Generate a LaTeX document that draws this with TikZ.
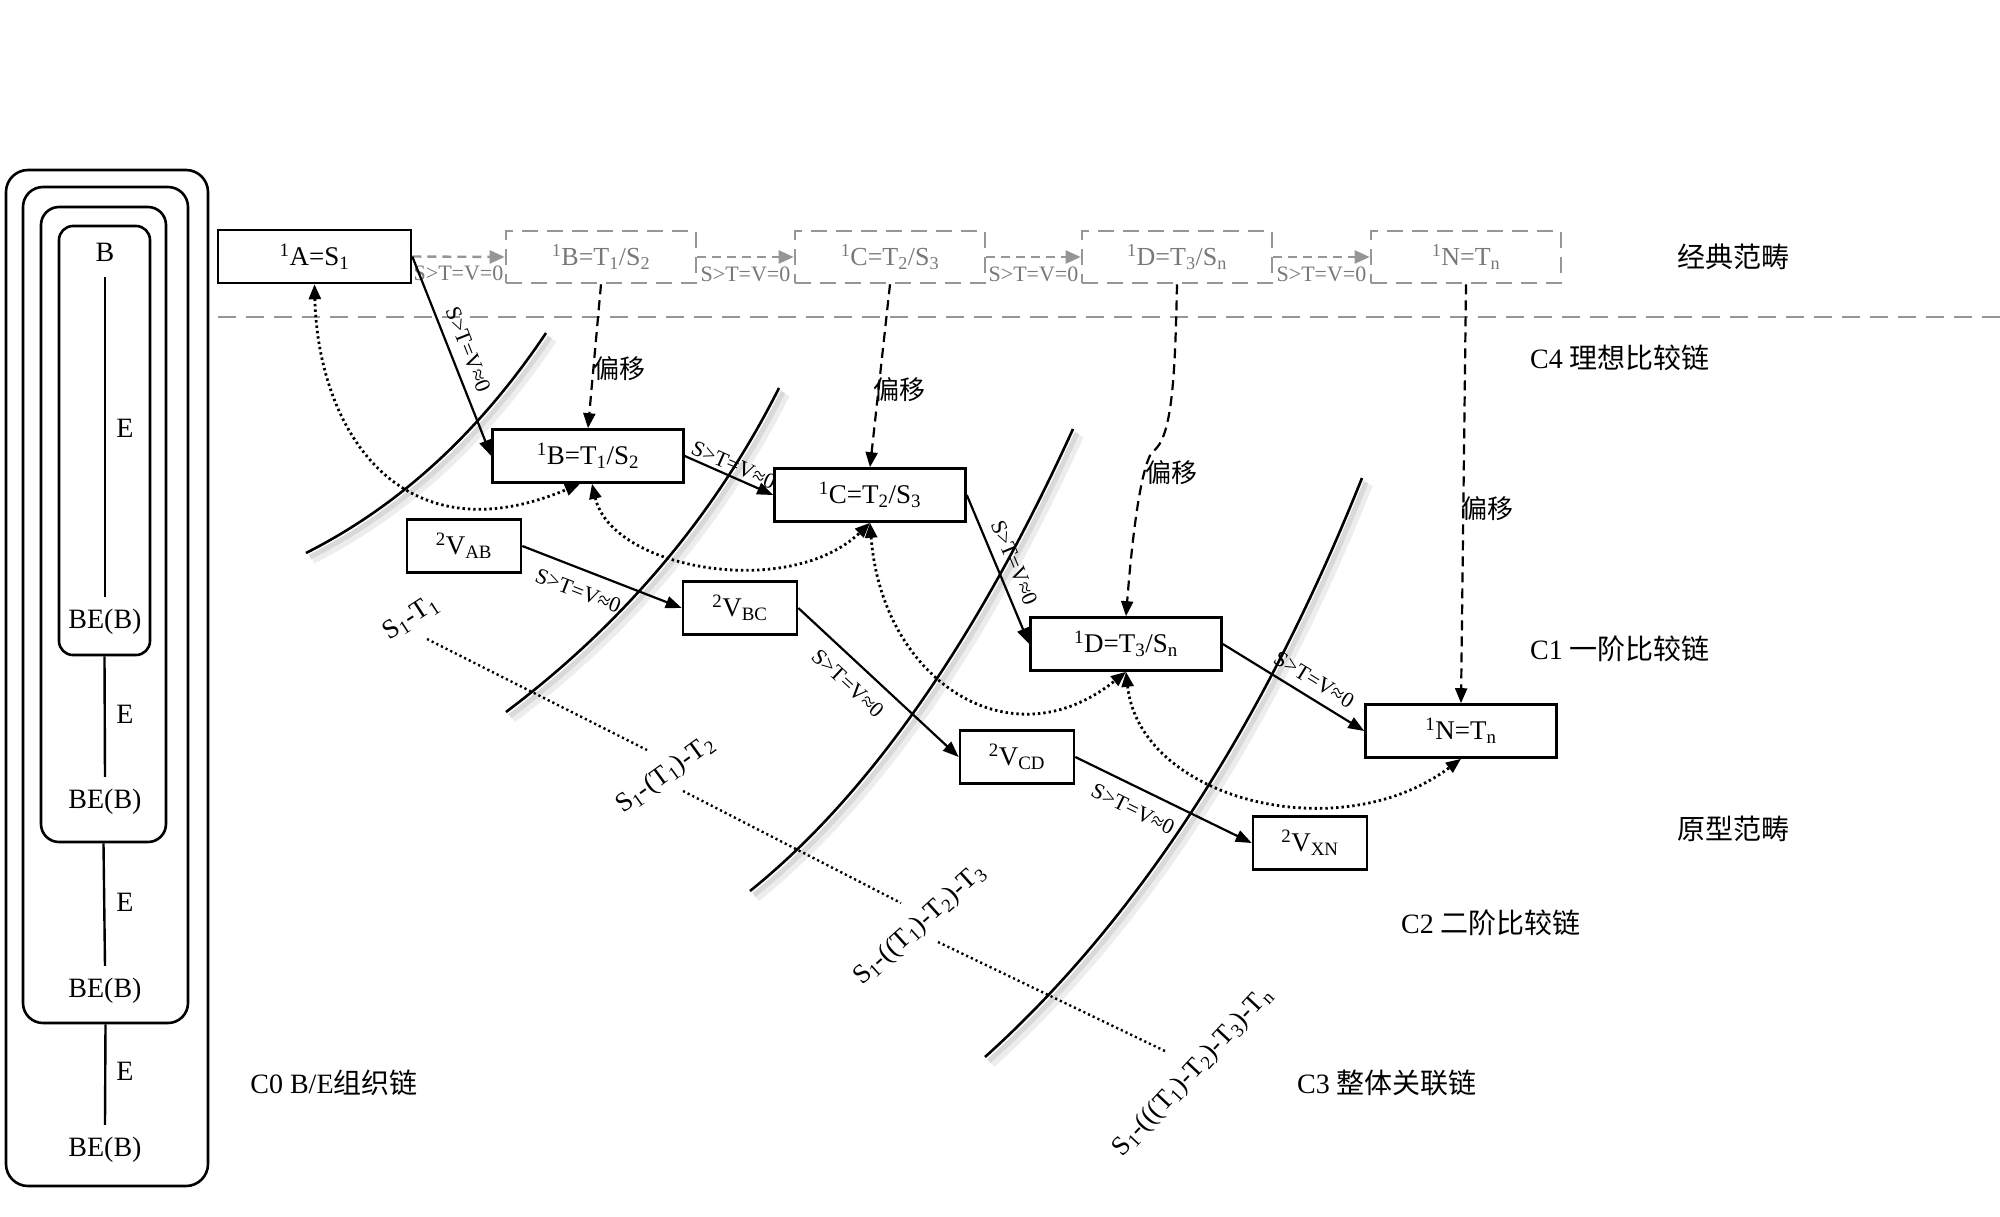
\documentclass[tikz,border=0pt]{standalone}
\usepackage{fontspec}
\setmainfont{Liberation Serif}
\newfontfamily\cjk{Noto Sans CJK SC}
\usetikzlibrary{arrows.meta,calc}
\definecolor{tgray}{RGB}{120,120,120}
\definecolor{lgray}{RGB}{150,150,150}
\newcommand\myup[1]{\textsuperscript{#1}}
\newcommand\mydn[1]{\textsubscript{#1}}
\newcommand\myfs[1]{\fontsize{#1}{#1}\selectfont}
\begin{document}
\begin{tikzpicture}[x=1pt,y=-1pt,
  sbox/.style={draw, fill=white, line width=2.6pt, minimum width=191pt, minimum height=53pt, inner sep=0pt, font=\myfs{27}},
  vbox/.style={sbox, minimum width=114pt},
  tbox/.style={draw=lgray, line width=2.6pt, dash pattern=on 16pt off 9pt, minimum width=190pt, minimum height=52pt, inner sep=0pt, text=tgray, font=\myfs{26}},
  rbox/.style={draw, line width=2.6pt, inner sep=0pt},
  btxt/.style={font=\myfs{28}, inner sep=0pt, minimum height=50pt},
  etxt/.style={font=\myfs{28}, inner sep=0pt},
  arr/.style={line width=2.2pt, -{Triangle[length=16pt,width=12pt]}},
  tarr/.style={draw=lgray, line width=2.4pt, dash pattern=on 9pt off 6pt, -{Triangle[length=15pt,width=13pt]}},
  shiftarr/.style={line width=2.2pt, dash pattern=on 10pt off 6pt, -{Triangle[length=15pt,width=12pt]}},
  dotarr/.style={line width=2.8pt, dash pattern=on 2.4pt off 3pt, {Triangle[length=15pt,width=12pt]}-{Triangle[length=15pt,width=12pt]}},
  dotln/.style={line width=2.4pt, dash pattern=on 2.2pt off 3pt},
  elbl/.style={font=\myfs{22}, inner sep=9pt},
  elblb/.style={font=\myfs{22}, inner sep=13pt},
  tlbl/.style={font=\myfs{22}, text=tgray, inner sep=0pt},
  cjklbl/.style={font=\cjk\myfs{26}, inner sep=0pt},
  side/.style={font=\myfs{28}, inner sep=0pt},
  chain/.style={font=\myfs{27}, inner sep=2pt},
  curve/.style={line width=2.6pt},
  shadeA/.style={line width=10pt, black!7},
  shadeB/.style={line width=5pt, black!15},
]
\useasboundingbox (0,0) rectangle (2000,1216);
\fill[white] (0,0) rectangle (2000,1216);

% ---- large arcs with soft shadow
\draw[shadeA, shift={(6,6)}] (306,553) .. controls (399,506) and (479,433) .. (546,333);
\draw[shadeB, shift={(4,4)}] (306,553) .. controls (399,506) and (479,433) .. (546,333);
\draw[curve] (306,553) .. controls (399,506) and (479,433) .. (546,333);
\draw[shadeA, shift={(6,6)}] (506,712) .. controls (624,623) and (715,515) .. (779,388);
\draw[shadeB, shift={(4,4)}] (506,712) .. controls (624,623) and (715,515) .. (779,388);
\draw[curve] (506,712) .. controls (624,623) and (715,515) .. (779,388);
\draw[shadeA, shift={(6,6)}] (750,891) .. controls (868,796) and (976,642) .. (1073,429);
\draw[shadeB, shift={(4,4)}] (750,891) .. controls (868,796) and (976,642) .. (1073,429);
\draw[curve] (750,891) .. controls (868,796) and (976,642) .. (1073,429);
\draw[shadeA, shift={(6,6)}] (985,1057) .. controls (1136,921) and (1262,728) .. (1362,478);
\draw[shadeB, shift={(4,4)}] (985,1057) .. controls (1136,921) and (1262,728) .. (1362,478);
\draw[curve] (985,1057) .. controls (1136,921) and (1262,728) .. (1362,478);

% ---- left nested B/E boxes
\node[rbox, rounded corners=22pt, minimum width=202pt, minimum height=1016pt] (L4) at (107,678) {};
\node[rbox, rounded corners=20pt, minimum width=165pt, minimum height=836pt] (L3) at (105.5,605) {};
\node[rbox, rounded corners=18pt, minimum width=125pt, minimum height=635pt] (L2) at (103.5,524.5) {};
\node[rbox, rounded corners=14pt, minimum width=91pt, minimum height=429pt] (L1) at (104.5,440.5) {};
\node[btxt] (b0) at (105,252) {B};
\node[etxt] (e1) at (125,428) {E};
\node[btxt] (be1) at (105,622) {BE(B)};
\node[etxt] (e2) at (125,714) {E};
\node[btxt] (be2) at (105,802) {BE(B)};
\node[etxt] (e3) at (125,902) {E};
\node[btxt] (be3) at (105,991) {BE(B)};
\node[etxt] (e4) at (125,1071) {E};
\node[btxt] (be4) at (105,1150) {BE(B)};
\draw[line width=2.4pt] (b0.south) -- (be1.north);
\draw[line width=2.4pt] (L1.south) -- (be2.north);
\draw[line width=2.4pt] (L2.south) -- (be3.north);
\draw[line width=2.4pt] (L3.south) -- (be4.north);

% ---- classical category row
\draw[lgray, line width=2.6pt, dash pattern=on 18pt off 10pt] (218,317) -- (2000,317);
\node[sbox, minimum width=193pt] (A) at (314.5,256.5) {\myup{1}A=S\mydn{1}};
\node[tbox] (TB) at (601,257) {\myup{1}B=T\mydn{1}/S\mydn{2}};
\node[tbox] (TC) at (890,257) {\myup{1}C=T\mydn{2}/S\mydn{3}};
\node[tbox] (TD) at (1177,257) {\myup{1}D=T\mydn{3}/S\mydn{n}};
\node[tbox] (TN) at (1466,257) {\myup{1}N=T\mydn{n}};
\draw[tarr] (A.east) -- (TB.west) node[tlbl, midway, yshift=-17pt] {S>T=V=0};
\draw[tarr] (TB.east) -- (TC.west) node[tlbl, midway, yshift=-17pt] {S>T=V=0};
\draw[tarr] (TC.east) -- (TD.west) node[tlbl, midway, yshift=-17pt] {S>T=V=0};
\draw[tarr] (TD.east) -- (TN.west) node[tlbl, midway, yshift=-17pt] {S>T=V=0};

% ---- prototype boxes
\node[sbox] (B1) at (588,456) {\myup{1}B=T\mydn{1}/S\mydn{2}};
\node[sbox] (C1) at (870,495) {\myup{1}C=T\mydn{2}/S\mydn{3}};
\node[sbox] (D1) at (1126,644) {\myup{1}D=T\mydn{3}/S\mydn{n}};
\node[sbox] (N1) at (1461,731) {\myup{1}N=T\mydn{n}};
\node[vbox] (VAB) at (464,546) {\myup{2}V\mydn{AB}};
\node[vbox] (VBC) at (740,608) {\myup{2}V\mydn{BC}};
\node[vbox] (VCD) at (1017,757) {\myup{2}V\mydn{CD}};
\node[vbox] (VXN) at (1310,843) {\myup{2}V\mydn{XN}};

% ---- solid chain arrows
\draw[arr] (A.east) -- (B1.west) node[elbl, midway, sloped, above] {S>T=V≈0};
\draw[arr] (B1.east) -- (C1.west) node[elbl, inner sep=3pt, midway, sloped, above] {S>T=V≈0};
\draw[arr] (C1.east) -- (D1.west) node[elbl, midway, sloped, above] {S>T=V≈0};
\draw[arr] (D1.east) -- (N1.west) node[elbl, pos=0.58, sloped, above] {S>T=V≈0};
\draw[arr] (VAB.east) -- (VBC.west) node[elblb, pos=0.4, sloped, below] {S>T=V≈0};
\draw[arr] (VBC.east) -- (VCD.west) node[elblb, pos=0.4, sloped, below] {S>T=V≈0};
\draw[arr] (VCD.east) -- (VXN.west) node[elblb, pos=0.38, sloped, below] {S>T=V≈0};

% ---- shift (偏移) arrows
\draw[shiftarr] (TB.south) -- (B1.north);
\draw[shiftarr] (TC.south) -- (C1.north);
\draw[shiftarr] (TD.south) .. controls (1175,380) and (1172,440) .. (1152,452) .. controls (1140,470) and (1132,540) .. (D1.north);
\draw[shiftarr] (TN.south) -- (N1.north);
\node[cjklbl] (p1) at (619,369) {偏移};
\node[cjklbl] (p2) at (899,390) {偏移};
\node[cjklbl] (p3) at (1171,473) {偏移};
\node[cjklbl] (p4) at (1487,509) {偏移};

% ---- dotted double arrows
\draw[dotarr] (A.south) .. controls (318,430) and (400,560) .. ([xshift=-8pt]B1.south);
\draw[dotarr] ([xshift=4pt]B1.south) .. controls (612,570) and (790,600) .. (C1.south);
\draw[dotarr] (C1.south) .. controls (882,680) and (1010,765) .. (D1.south);
\draw[dotarr] (D1.south) .. controls (1140,800) and (1340,850) .. (N1.south);

% ---- whole-association chain labels
\node[chain, rotate=33] (s1) at (411,618) {S\mydn{1}-T\mydn{1}};
\node[chain, rotate=36] (s2) at (666,775) {S\mydn{1}-(T\mydn{1})-T\mydn{2}};
\node[chain, rotate=42] (s3) at (920,925) {S\mydn{1}-((T\mydn{1})-T\mydn{2})-T\mydn{3}};
\node[chain, rotate=47] (s4) at (1193,1072) {S\mydn{1}-(((T\mydn{1})-T\mydn{2})-T\mydn{3})-T\mydn{n}};
\coordinate (d1a) at (427,639);
\coordinate (d1b) at (647,750);
\coordinate (d2a) at (683,791);
\coordinate (d2b) at (901,903);
\coordinate (d3a) at (938,942);
\coordinate (d3b) at (1167,1052);
\draw[dotln] (d1a) -- (d1b);
\draw[dotln] (d2a) -- (d2b);
\draw[dotln] (d3a) -- (d3b);

% ---- side labels
\node[side] (k1) at (1733,257) {{\cjk 经典范畴}};
\node[side] (c4) at (1620,358) {C4 {\cjk 理想比较链}};
\node[side] (c1) at (1620,649) {C1 {\cjk 一阶比较链}};
\node[side] (k2) at (1733,829) {{\cjk 原型范畴}};
\node[side] (c2) at (1491,923) {C2 {\cjk 二阶比较链}};
\node[side] (c3) at (1387,1083) {C3 {\cjk 整体关联链}};
\node[side] (c0) at (334,1083) {C0 B/E{\cjk 组织链}};
\end{tikzpicture}
\end{document}
